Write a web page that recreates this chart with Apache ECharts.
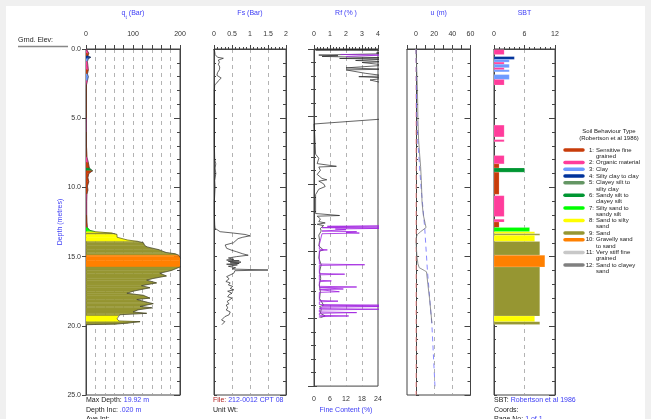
<!DOCTYPE html>
<html><head><meta charset="utf-8">
<script src="https://cdn.jsdelivr.net/npm/echarts@6/dist/echarts.min.js"></script>
<style>
html,body{margin:0;padding:0;background:#f0f0f0;}
#paper{position:absolute;left:6px;top:6px;width:639px;height:413px;background:#fff;}
#c{position:absolute;left:0;top:0;width:651px;height:419px;}
</style>
</head><body><div id="paper"></div><div id="c"></div>
<script>
// ---------------- DATA ----------------
const zoneColors = ['#c83c0a','#ff3c9b','#6e9bff','#00329b','#649664','#009632','#00ff00','#ffff00','#969632','#ff8000','#c8c8c8','#808080'];
const zoneNames = ['Sensitive fine\ngrained','Organic material','Clay','Silty clay to clay','Clayey silt to\nsilty clay','Sandy silt to\nclayey silt','Silty sand to\nsandy silt','Sand to silty\nsand','Sand','Gravelly sand\nto sand','Very stiff fine\ngrained','Sand to clayey\nsand'];
// [top depth, bottom depth, zone]
const sbtLayers = [[0.05,0.4,2],[0.55,0.75,4],[0.75,0.95,3],[0.95,1.1,2],[1.1,1.35,3],[1.35,1.5,2],[1.5,1.65,3],[1.85,2.2,3],[2.2,2.6,2],[5.5,6.35,2],[6.55,6.7,2],[7.7,8.3,2],[8.3,8.6,1],[8.6,8.9,6],[8.9,10.5,1],[10.6,12.1,2],[12.3,12.5,2],[12.5,12.9,1],[12.9,13.2,7],[13.2,13.35,8],[13.35,13.45,9],[13.45,13.9,8],[13.9,14.9,9],[14.9,15.75,10],[15.75,19.3,9],[19.3,19.7,8],[19.7,19.9,9]];
// [depth m, qt Bar]
const qtProfile = [[0,0],[0.1,3],[0.3,6],[0.5,4],[0.6,10],[0.7,5],[0.9,3],[1.2,4],[1.5,5],[1.8,3],[2.0,5],[2.3,3],[2.6,1],[3,0.8],[4,0.8],[5,0.8],[6,1],[7,1],[7.8,2],[8.2,5],[8.6,7],[8.8,14],[9.0,6],[9.3,4],[9.6,6],[9.9,3],[10.2,4],[10.5,2],[11,1.5],[12,1.5],[12.5,2],[12.9,3],[13.1,8],[13.2,20],[13.3,55],[13.4,66],[13.6,66],[13.8,88],[13.9,110],[14.0,122],[14.2,125],[14.3,130],[14.5,155],[14.7,170],[14.8,190],[14.9,197],[15.0,200],[15.3,205],[15.6,205],[15.75,200],[16.0,182],[16.2,157],[16.4,171],[16.6,140],[16.7,129],[16.9,150],[17.1,118],[17.25,136],[17.5,100],[17.65,87],[17.8,122],[18.0,136],[18.1,108],[18.3,130],[18.4,143],[18.6,115],[18.7,140],[18.85,110],[19.0,100],[19.1,129],[19.2,72],[19.3,68],[19.5,66],[19.65,70],[19.7,115],[19.8,90],[19.87,65],[19.92,0]];
// [depth m, fs Bar]
const fsProfile = [[0,0],[0.2,0.02],[0.4,0.03],[0.6,0.1],[0.67,0.26],[0.8,0.12],[0.95,0.15],[1.1,0.12],[1.3,0.16],[1.5,0.15],[1.7,0.1],[1.9,0.08],[2.1,0.2],[2.3,0.12],[2.45,0.08],[2.6,0.02],[3,0.01],[5,0.01],[7,0.01],[8,0.02],[8.3,0.05],[8.6,0.03],[9.0,0.05],[9.5,0.02],[10,0.03],[11,0.01],[12,0.01],[12.7,0.02],[12.96,0.03],[13.1,0.08],[13.2,0.17],[13.3,0.54],[13.4,0.86],[13.5,1.0],[13.6,0.8],[13.7,0.67],[13.8,0.7],[14.0,0.54],[14.16,0.31],[14.4,0.35],[14.55,0.5],[14.65,0.63],[14.8,0.8],[14.9,0.95],[15.0,0.63],[15.1,0.4],[15.2,0.55],[15.25,0.35],[15.3,0.7],[15.35,0.4],[15.4,0.75],[15.45,0.45],[15.5,0.7],[15.55,0.35],[15.6,0.65],[15.7,0.4],[15.8,0.6],[15.9,0.5],[15.97,1.5],[16.02,0.58],[16.2,0.55],[16.45,0.35],[16.6,0.42],[16.8,0.33],[16.9,0.45],[17.05,0.4],[17.15,0.52],[17.3,0.45],[17.4,0.55],[17.5,0.38],[17.65,0.5],[17.75,0.42],[17.9,0.38],[18.0,0.5],[18.1,0.45],[18.25,0.36],[18.4,0.42],[18.5,0.34],[18.6,0.3],[18.7,0.38],[18.86,0.34],[19.0,0.45],[19.1,0.5],[19.2,0.42],[19.34,0.3],[19.45,0.28],[19.58,0.21],[19.7,0.3],[19.82,0.25],[19.92,0.22]];
// [depth m, Rf %]
const rfProfile = [[0.0,4.5],[0.04,4.5],[0.08,0.1],[0.12,4.5],[0.2,4.5],[0.3,3.9],[0.35,4.5],[0.45,0.3],[0.5,1.5],[0.55,0.5],[0.6,2.5],[0.65,4.5],[0.7,1.6],[0.75,4.5],[0.85,2.6],[0.95,4.5],[1.0,3.0],[1.2,4.5],[1.4,2.0],[1.5,4.5],[1.55,2.0],[1.8,3.2],[2.0,4.5],[2.05,2.8],[2.15,4.5],[2.3,3.5],[2.6,4.6],[5.2,4.2],[5.56,0],[6,0.03],[7.8,0.1],[8.1,0.3],[8.5,0.2],[8.7,1.4],[8.75,0.3],[9.0,0.4],[9.3,0.2],[9.6,0.5],[9.7,0.8],[9.8,0.3],[10.0,0.6],[10.2,0.7],[10.4,0.3],[10.8,0.1],[12.2,0.1],[12.35,1.6],[12.4,0.2],[12.6,0.4],[12.8,0.3],[12.9,0.7],[13.0,0.2],[13.1,0.6],[13.3,0.4],[13.5,0.45],[13.8,0.3],[14.2,0.35],[14.6,0.3],[14.9,0.58],[15.0,0.35],[15.5,0.3],[16.0,0.45],[16.5,0.35],[17.0,0.42],[17.5,0.33],[18.0,0.4],[18.5,0.35],[19.0,0.6],[19.1,0.35],[19.3,0.45],[19.6,0.4],[19.8,0.7],[19.92,0.4]];
// [depth m, Fines content %] (bottom axis)
const fcTop = [[0.4,10],[0.45,26],[0.5,26],[0.55,12]];
const fcMain = [[13.1,26],[13.15,5],[13.2,26],[13.25,3],[13.3,26],[13.35,8],[13.4,12],[13.5,3],[13.55,16],[13.6,12],[13.65,17],[13.7,3],[13.8,2.5],[14.5,2],[14.85,2],[14.9,5],[14.95,2],[15.5,2],[15.95,2],[16.0,19],[16.05,2],[16.65,2],[16.7,11.5],[16.75,2],[17.15,2],[17.2,6.5],[17.25,2],[17.6,2],[17.65,16],[17.7,2],[17.75,2],[17.8,11],[17.85,2],[17.95,2],[18.0,9.5],[18.05,2],[18.65,2],[18.7,9],[18.75,2],[18.95,2],[19.0,26],[19.05,3],[19.1,26],[19.15,3],[19.25,2],[19.3,26],[19.35,2],[19.5,2],[19.55,16],[19.6,2],[19.75,2],[19.8,13],[19.85,2],[19.92,2]];
// [depth m, u m]
const uProfile = [[0,0],[1,0.5],[2,1],[3,1.5],[4,1.8],[5,2],[6,2.5],[6.6,2.8],[7.5,3.8],[8.5,5],[9.5,5.8],[10.5,6.3],[11.1,6.6],[12,8],[12.6,10],[12.9,11],[13.0,10],[13.2,5],[13.4,1.5],[13.6,0.3],[14.0,0],[14.5,0.5],[15.0,1],[15.5,2],[15.8,3.5],[15.9,5],[16.0,9],[16.1,11.5],[17,13],[18,14.8],[19,16.3],[19.8,17.5]];
const uHydro = [[0,0],[4,0.5],[6.6,1.8],[10,5.5],[12.9,9.5],[16,12.5],[20,17.5],[24.6,21]];
const uRef = [[0,0],[25,0]];
const uGrid = [20, 40];
const qtLabels = [0,100,200];
const uLabels = [0,20,40,60];
const maxDepth = '19.92 m', depthInc = '.020 m', fileName = '212-0012 CPT 08', sbtMethod = 'Robertson et al 1986', pageNo = '1 of 1';

// ---------------- CHART ----------------
const FONT = 'Liberation Sans, Arial, sans-serif';
const BLUE = '#3c3cf5';
const AX = '#444';
const gTop = 49, gHeight = 346;
const panels = [
  {left:86, width:94},
  {left:214, width:72},
  {left:314, width:64},
  {left:407, width:63.5},
  {left:494, width:61}
];
const grids = panels.map(p => ({left:p.left, top:gTop, width:p.width, height:gHeight, show:true, borderColor:AX, borderWidth:1}));
const dash = {color:'#a0a0a0', type:[4,4], width:0.8};
function topAxis(gi, name, min, max, interval, minorSplit, fmt, split){
  return {type:'value', gridIndex:gi, position:'top', min:min, max:max, interval:interval,
    name:name, nameLocation:'middle', nameGap:32, nameTextStyle:{color:BLUE, fontSize:7, fontFamily:FONT, rich:{s:{fontSize:5, color:BLUE, verticalAlign:'bottom', padding:[0,0,-3,0]}}},
    axisLine:{show:true, lineStyle:{color:AX, width:1}},
    axisTick:{show:true, inside:false, length:4, lineStyle:{color:AX}},
    minorTick:{show:!!minorSplit, splitNumber:minorSplit||5, length:2, lineStyle:{color:AX}},
    axisLabel:{fontSize:7, color:'#333', fontFamily:FONT, margin:11, formatter:fmt, showMinLabel:true, showMaxLabel:true},
    splitLine:{show:split, lineStyle:dash}};
}
const xAxes = [
  topAxis(0, '{a|q}{s|t}{a| (Bar)}', 0, 200, 20, 0, v => qtLabels.includes(v) ? String(v) : '', true),
  topAxis(1, 'Fs (Bar)', 0, 2, 0.5, 5, v => String(v), true),
  topAxis(2, 'Rf (% )', 0, 4, 1, 5, v => String(v), true),
  {type:'value', gridIndex:2, position:'bottom', min:0, max:24, interval:6,
    name:'Fine Content (%)', nameLocation:'middle', nameGap:20, nameTextStyle:{color:BLUE, fontSize:7, fontFamily:FONT},
    axisLine:{show:false}, axisTick:{show:false}, splitLine:{show:false},
    axisLabel:{fontSize:7, color:'#333', fontFamily:FONT, margin:9}},
  topAxis(3, 'u (m)', -10, 60, 10, 0, v => uLabels.includes(v) ? String(v) : '', false),
  topAxis(4, 'SBT', 0, 12, 6, 6, v => String(v), true)
];
xAxes[0].nameTextStyle.rich.a = {fontSize:7, color:BLUE, fontFamily:FONT};
const yAxes = [];
panels.forEach((p, gi) => {
  const first = gi === 0;
  yAxes.push({type:'value', gridIndex:gi, position:'left', inverse:true, min:0, max:25, interval:5,
    name: first ? 'Depth (metres)' : '', nameLocation:'middle', nameGap:22, nameRotate:90,
    nameTextStyle:{color:BLUE, fontSize:7, fontFamily:FONT},
    axisLine:{show:true, lineStyle:{color:AX}},
    axisTick:{show:true, inside:!first, length: first ? 4 : 3, lineStyle:{color:AX}},
    minorTick:{show:!first, splitNumber:5, length:2, lineStyle:{color:AX}},
    axisLabel:{show:first, fontSize:7, color:'#333', fontFamily:FONT, margin:5, formatter:v => v.toFixed(1)},
    splitLine:{show:false}});
  yAxes.push({type:'value', gridIndex:gi, position:'right', inverse:true, min:0, max:25, interval:5,
    axisLine:{show:true, lineStyle:{color:AX}},
    axisTick:{show:true, inside:true, length:6, lineStyle:{color:AX}},
    minorTick:{show:true, splitNumber:5, length:3, lineStyle:{color:AX}},
    axisLabel:{show:false}, splitLine:{show:false}});
});

function zoneAt(d){
  for (const L of sbtLayers) if (d >= L[0] && d < L[1]) return L[2];
  return 1;
}
const qtSegments = [];
for (let i = 0; i < qtProfile.length - 1; i++){
  const a = qtProfile[i], b = qtProfile[i+1];
  qtSegments.push([a[0], a[1], b[0], b[1], zoneAt((a[0]+b[0])/2)]);
}
function lineS(xi, yi, data, color, width, type){
  return {type:'line', xAxisIndex:xi, yAxisIndex:yi, data:data, encode:{x:1, y:0}, symbol:'none', showSymbol:false,
    silent:true, animation:false, clip:true, lineStyle:{color:color, width:width, type:type||'solid'}, z:3};
}
const series = [
  {type:'custom', xAxisIndex:0, yAxisIndex:0, data:qtSegments, encode:{x:[1,3], y:[0,2]}, clip:true, silent:true, animation:false,
    renderItem:(params, api) => {
      const d1 = api.value(0), q1 = api.value(1), d2 = api.value(2), q2 = api.value(3), z = api.value(4);
      const c = zoneColors[z-1];
      return {type:'polygon', shape:{points:[api.coord([0,d1]), api.coord([q1,d1]), api.coord([q2,d2]), api.coord([0,d2])]},
        style:{fill:c, stroke:c, lineWidth:0.4}};
    }},
  lineS(0, 0, qtProfile, '#333', 0.6),
  lineS(1, 2, fsProfile, '#222', 0.7),
  lineS(2, 4, rfProfile, '#222', 0.7),
  lineS(3, 4, fcTop, '#a020e0', 0.8),
  lineS(3, 4, fcMain, '#a020e0', 0.8),
  Object.assign(lineS(4, 6, uRef, '#ff9090', 0.9, [5,4]), {z:2}),
  lineS(4, 6, uHydro, '#6a6aff', 0.8, [5,4]),
  Object.assign(lineS(4, 6, uProfile, '#777', 0.8), {
    markLine:{silent:true, symbol:'none', animation:false, label:{show:false},
      lineStyle:dash, data: uGrid.map(v => ({xAxis:v}))}}),
  {type:'custom', xAxisIndex:5, yAxisIndex:8, data:sbtLayers, encode:{x:2, y:[0,1]}, clip:true, silent:true, animation:false,
    renderItem:(params, api) => {
      const p0 = api.coord([0, api.value(0)]), p1 = api.coord([api.value(2), api.value(1)]);
      return {type:'rect', shape:{x:p0[0], y:p0[1], width:p1[0]-p0[0], height:p1[1]-p0[1]},
        style:{fill:zoneColors[api.value(2)-1], stroke:'rgba(255,255,255,0.5)', lineWidth:0.3}};
    }}
];

// graphics: header, footer, legend
const g = [];
const txt = (x, y, text, opt) => g.push(Object.assign({type:'text', x:x, y:y, silent:true,
  style:Object.assign({text:text, font:'7px ' + FONT, fill:'#222', textVerticalAlign:'middle'}, opt||{})}));
txt(18, 40, 'Grnd. Elev:');
g.push({type:'line', silent:true, shape:{x1:18, y1:46.5, x2:68, y2:46.5}, style:{stroke:'#888', lineWidth:1.3}});
const rich = {k:{fill:'#222', fontSize:7, fontFamily:FONT}, v:{fill:BLUE, fontSize:7, fontFamily:FONT}, r:{fill:'#b02020', fontSize:7, fontFamily:FONT}};
txt(86, 400, '{k|Max Depth: }{v|' + maxDepth + '}', {rich:rich});
txt(86, 410, '{k|Depth Inc: }{v|' + depthInc + '}', {rich:rich});
txt(86, 419, '{k|Ave Int:}', {rich:rich});
txt(213, 400, '{r|File: }{v|' + fileName + '}', {rich:rich});
txt(213, 410, '{k|Unit Wt:}', {rich:rich});
txt(494, 400, '{k|SBT: }{v|' + sbtMethod + '}', {rich:rich});
txt(494, 410, '{k|Coords:}', {rich:rich});
txt(494, 419, '{k|Page No: }{v|' + pageNo + '}', {rich:rich});
txt(609, 131, 'Soil Behaviour Type', {font:'6px ' + FONT, textAlign:'center'});
txt(609, 138, '(Robertson et al 1986)', {font:'6px ' + FONT, textAlign:'center'});
let ly = 150;
zoneNames.forEach((n, i) => {
  g.push({type:'line', silent:true, shape:{x1:565, y1:ly, x2:583, y2:ly}, style:{stroke:zoneColors[i], lineWidth:3.5, lineCap:'round'}});
  txt(594, ly, (i+1) + ':', {font:'6px ' + FONT, textAlign:'right'});
  const lines = n.split('\n');
  lines.forEach((s, k) => txt(596, ly + k*6.3, s, {font:'6px ' + FONT}));
  ly += lines.length === 2 ? 12.6 : 6.7;
});

const chart = echarts.init(document.getElementById('c'), null, {renderer:'canvas'});
chart.setOption({animation:false, grid:grids, xAxis:xAxes, yAxis:yAxes, series:series, graphic:{elements:g}});
</script>
</body></html>
